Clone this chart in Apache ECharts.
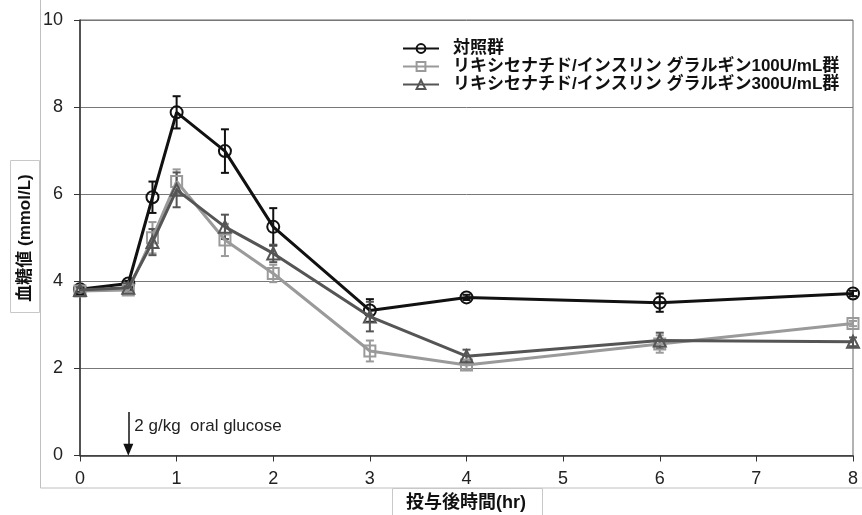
<!DOCTYPE html>
<html>
<head>
<meta charset="utf-8">
<script src="https://cdn.jsdelivr.net/npm/echarts@6/dist/echarts.min.js"></script>
<style>
  html, body { margin: 0; padding: 0; background: #fff; }
  #chart { width: 862px; height: 515px; }
</style>
</head>
<body>
<div id="chart"></div>
<script>
// Sampling times (hr) after dosing
const times = [0, 0.5, 0.75, 1, 1.5, 2, 3, 4, 6, 8];

// Blood glucose mean (mmol/L) and standard error per group
const controlMean = [3.82, 3.95, 5.93, 7.88, 6.99, 5.25, 3.33, 3.63, 3.51, 3.72];
const controlSE   = [0.06, 0.06, 0.36, 0.37, 0.50, 0.43, 0.26, 0.06, 0.21, 0.06];
const dose100Mean = [3.78, 3.80, 5.00, 6.29, 4.95, 4.18, 2.40, 2.08, 2.56, 3.03];
const dose100SE   = [0.06, 0.06, 0.36, 0.28, 0.37, 0.20, 0.24, 0.10, 0.20, 0.06];
const dose300Mean = [3.80, 3.85, 4.90, 6.10, 5.25, 4.64, 3.19, 2.28, 2.64, 2.61];
const dose300SE   = [0.06, 0.06, 0.30, 0.40, 0.28, 0.20, 0.34, 0.15, 0.18, 0.10];

const seriesNames = [
  '対照群',
  'リキシセナチド/インスリン グラルギン100U/mL群',
  'リキシセナチド/インスリン グラルギン300U/mL群'
];

const xTicks = { min: 0, max: 8, interval: 1 };
const yTicks = { min: 0, max: 10, interval: 2 };

// Glucose load annotation: time of dose and label
const glucoseTime = 0.5;
const glucoseArrowTop = 1.0;
const glucoseLabel = '2 g/kg  oral glucose';

const FONT = '"Liberation Sans", Arial, "Noto Sans CJK JP", sans-serif';

const groups = [
  { name: seriesNames[0], mean: controlMean, se: controlSE, color: '#111111', symbol: 'circle' },
  { name: seriesNames[1], mean: dose100Mean, se: dose100SE, color: '#9a9a9a', symbol: 'rect' },
  { name: seriesNames[2], mean: dose300Mean, se: dose300SE, color: '#555555', symbol: 'triangle' }
];

function pairs(mean) { return times.map((t, i) => [t, mean[i]]); }

const series = [];
groups.forEach((g, gi) => {
  // error bars (mean ± SE)
  series.push({
    type: 'custom',
    name: g.name + ' SE',
    z: 3 + gi,
    silent: true,
    data: times.map((t, i) => [t, g.mean[i] - g.se[i], g.mean[i] + g.se[i]]),
    renderItem: function (params, api) {
      const x = api.value(0);
      const lo = api.coord([x, api.value(1)]);
      const hi = api.coord([x, api.value(2)]);
      const cap = 4;
      const style = { stroke: g.color, lineWidth: 2, fill: 'none' };
      return {
        type: 'group',
        children: [
          { type: 'line', shape: { x1: lo[0], y1: lo[1], x2: hi[0], y2: hi[1] }, style: style },
          { type: 'line', shape: { x1: lo[0] - cap, y1: lo[1], x2: lo[0] + cap, y2: lo[1] }, style: style },
          { type: 'line', shape: { x1: hi[0] - cap, y1: hi[1], x2: hi[0] + cap, y2: hi[1] }, style: style }
        ]
      };
    }
  });
  // mean line with hollow markers
  series.push({
    type: 'line',
    name: g.name,
    z: 6 + gi,
    data: pairs(g.mean),
    symbol: g.symbol,
    symbolSize: g.symbol === 'rect' ? 11 : 12,
    showSymbol: true,
    color: g.color,
    lineStyle: { color: g.color, width: 3 },
    itemStyle: { color: 'rgba(255,255,255,0)', borderColor: g.color, borderWidth: 2 },
    emphasis: { disabled: true },
    animation: false
  });
});

// glucose load arrow and text
series.push({
  type: 'line',
  name: 'annotation',
  data: [],
  markLine: {
    silent: true,
    symbol: ['none', 'triangle'],
    symbolSize: [10, 12],
    lineStyle: { color: '#111', width: 1.5, type: 'solid' },
    label: { show: false },
    data: [[{ coord: [glucoseTime, glucoseArrowTop] }, { coord: [glucoseTime, 0.13] }]]
  },
  markPoint: {
    silent: true,
    symbol: 'circle',
    symbolSize: 0,
    label: {
      show: true,
      position: 'right',
      distance: 6,
      formatter: glucoseLabel,
      color: '#222',
      fontSize: 17,
      fontFamily: FONT
    },
    data: [{ coord: [glucoseTime, 0.66] }]
  }
});

const chart = echarts.init(document.getElementById('chart'), null, { renderer: 'canvas' });
chart.setOption({
  animation: false,
  backgroundColor: '#fff',
  grid: { left: 80, right: 9, top: 20, bottom: 59.5, show: true, borderColor: '#666', borderWidth: 1, backgroundColor: 'transparent' },
  legend: {
    data: seriesNames,
    orient: 'vertical',
    left: 397,
    top: 35,
    itemWidth: 36,
    itemHeight: 11,
    itemGap: 1,
    textStyle: { fontSize: 17, fontWeight: 'bold', color: '#111', fontFamily: FONT, padding: [0, 0, 0, 9] }
  },
  xAxis: {
    type: 'value',
    min: xTicks.min, max: xTicks.max, interval: xTicks.interval,
    axisLine: { show: true, onZero: false, lineStyle: { color: '#333', width: 1.5 } },
    axisTick: { show: true, inside: false, length: 6, lineStyle: { color: '#333' } },
    axisLabel: { fontSize: 18, color: '#222', fontFamily: FONT, margin: 15 },
    splitLine: { show: false }
  },
  yAxis: {
    type: 'value',
    min: yTicks.min, max: yTicks.max, interval: yTicks.interval,
    axisLine: { show: true, lineStyle: { color: '#333', width: 1.5 } },
    axisTick: { show: true, inside: false, length: 6, lineStyle: { color: '#333' } },
    axisLabel: { fontSize: 18, color: '#222', fontFamily: FONT, margin: 17 },
    splitLine: { show: true, lineStyle: { color: '#777', width: 1 } }
  },
  graphic: [
    // outer chart frame
    { type: 'rect', z: -10, silent: true, shape: { x: 40.5, y: -5, width: 900, height: 493 },
      style: { fill: 'none', stroke: '#c0c0c0', lineWidth: 1 } },
    // y axis title box
    { type: 'rect', z: 50, silent: true, shape: { x: 10.5, y: 160.5, width: 29, height: 152 },
      style: { fill: '#fff', stroke: '#c8c8c8', lineWidth: 1 } },
    { type: 'text', z: 51, silent: true, x: 25, y: 238, rotation: Math.PI / 2,
      style: { text: '血糖値 (mmol/L)', font: 'bold 17px ' + FONT, fill: '#111', align: 'center', verticalAlign: 'middle' } },
    // x axis title box
    { type: 'rect', z: 50, silent: true, shape: { x: 392.5, y: 488.5, width: 150, height: 40 },
      style: { fill: '#fff', stroke: '#c8c8c8', lineWidth: 1 } },
    { type: 'text', z: 51, silent: true, x: 466, y: 503,
      style: { text: '投与後時間(hr)', font: 'bold 18px ' + FONT, fill: '#111', align: 'center', verticalAlign: 'middle' } }
  ],
  series: series
});
</script>
</body>
</html>
